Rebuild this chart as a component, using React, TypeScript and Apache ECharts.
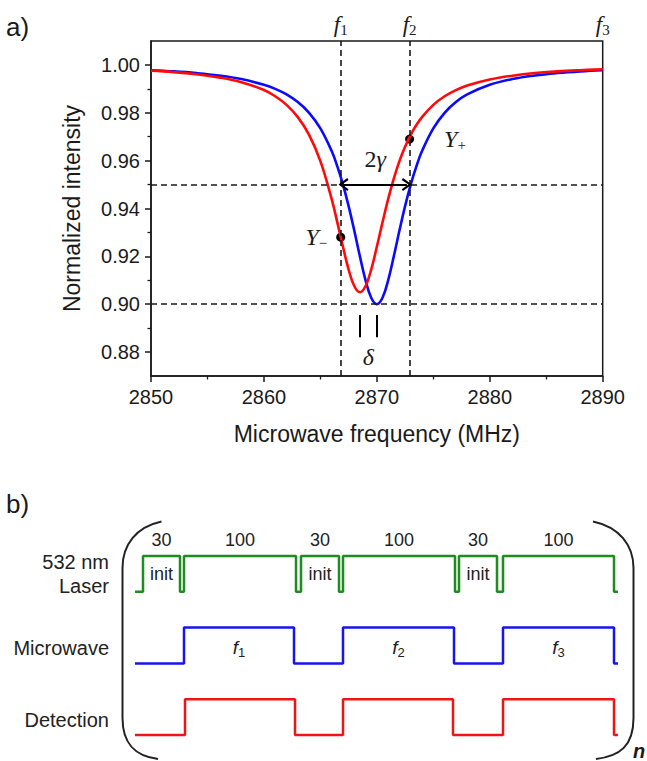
import React, { useEffect, useRef } from "react";
import * as echarts from "echarts";

// ---------- Panel a) data ----------
const freq = [2850, 2852, 2854, 2856, 2858, 2860, 2861, 2862, 2863, 2864, 2865, 2866, 2866.5, 2867, 2867.5, 2868, 2868.5, 2869, 2869.5, 2870, 2870.5, 2871, 2871.5, 2872, 2872.5, 2873, 2873.5, 2874, 2875, 2876, 2877, 2878, 2880, 2882, 2884, 2886, 2888, 2890];
const blueSignal = [0.9978, 0.9973, 0.9966, 0.9956, 0.9941, 0.9917, 0.99, 0.9877, 0.9845, 0.98, 0.9735, 0.964, 0.9576, 0.95, 0.941, 0.9308, 0.92, 0.91, 0.9027, 0.9, 0.9027, 0.91, 0.92, 0.9308, 0.941, 0.95, 0.9576, 0.964, 0.9735, 0.98, 0.9845, 0.9877, 0.9917, 0.9941, 0.9956, 0.9966, 0.9973, 0.9978];
const redSignal = [0.9976, 0.997, 0.9961, 0.9948, 0.9928, 0.9895, 0.9869, 0.9833, 0.9782, 0.9708, 0.9598, 0.9439, 0.9342, 0.924, 0.9145, 0.9076, 0.905, 0.9076, 0.9145, 0.924, 0.9342, 0.9439, 0.9525, 0.9598, 0.9658, 0.9708, 0.9749, 0.9782, 0.9833, 0.9869, 0.9895, 0.9914, 0.9939, 0.9955, 0.9966, 0.9973, 0.9978, 0.9982];
const probeFreq = [2866.8, 2872.9];
const probeValue = [0.928, 0.969];
const probeSign = ["\u2212", "+"];
const markerFreq = [2866.8, 2872.9, 2890];
const markerIndex = ["1", "2", "3"];
const halfLevel = 0.95;
const dipLevel = 0.9;
const dipCenters = [2868.5, 2870];
const yTickValues = [0.88, 0.9, 0.92, 0.94, 0.96, 0.98, 1.0];
const yMinorValues = [0.89, 0.91, 0.93, 0.95, 0.97, 0.99];

// ---------- Panel b) data (diagram time units) ----------
const laserTimes = [0, 8, 45, 49, 161, 166, 204, 208, 320, 324, 362, 368, 479, 483];
const laserOn = [0, 1, 0, 1, 0, 1, 0, 1, 0, 1, 0, 1, 0, 0];
const mwTimes = [0, 49, 159, 208, 319, 368, 479, 483];
const mwOn = [0, 1, 0, 1, 0, 1, 0, 0];
const detTimes = [0, 50, 160, 208, 318, 368, 479, 483];
const detOn = [0, 1, 0, 1, 0, 1, 0, 0];
const pulseDurations = ["30", "100", "30", "100", "30", "100"];
const mwFreqIndex = ["1", "2", "3"];
const channelNames = ["532 nm\nLaser", "Microwave", "Detection"];

const SANS = "'Liberation Sans', Arial, sans-serif";
const SERIF = "'Liberation Serif', 'DejaVu Serif', serif";
const INK = "#1a1a1a";

const chevron = "path://M5,0 L10,7.2 L8.6,8.2 L5,2.8 L1.4,8.2 L0,7.2 Z";

function pulseCenters(times: number[], on: number[]) {
  const out: number[] = [];
  for (let i = 0; i < on.length - 1; i++) {
    if (on[i] === 1) out.push((times[i] + times[i + 1]) / 2);
  }
  return out;
}

export default function App() {
  const ref = useRef<HTMLDivElement>(null);
  useEffect(() => {
    if (!ref.current) return;
    const chart = echarts.init(ref.current, undefined, { renderer: "svg" });

    const laserCenters = pulseCenters(laserTimes, laserOn);
    const mwCenters = pulseCenters(mwTimes, mwOn);
    const channelLevels = [4.5, 2.42, 0.42];

    const subRich = {
      i: { fontFamily: SERIF, fontStyle: "italic", fontSize: 23, color: INK },
      s: { fontFamily: SERIF, fontSize: 15, color: INK, padding: [12, 0, 0, 0] },
    };

    const option: any = {
      animation: false,
      backgroundColor: "#ffffff",
      textStyle: { fontFamily: SANS },
      grid: [
        { left: 151, top: 41, width: 451.7, height: 335, show: true, borderColor: INK, borderWidth: 1.5, backgroundColor: "transparent" },
        { left: 135, top: 538.1, width: 483, height: 214.8, show: false },
      ],
      xAxis: [
        {
          gridIndex: 0, type: "value", min: 2850, max: 2890, interval: 10,
          axisLine: { lineStyle: { color: INK, width: 1.5 } },
          axisTick: { length: 6, lineStyle: { color: INK, width: 1.5 } },
          minorTick: { show: true, splitNumber: 2, length: 3.5, lineStyle: { color: INK, width: 1.3 } },
          axisLabel: { fontSize: 20, color: INK, margin: 11, fontFamily: SANS, formatter: (v: number) => String(v) },
          splitLine: { show: false },
          name: "Microwave frequency (MHz)", nameLocation: "middle", nameGap: 46,
          nameTextStyle: { fontSize: 23, color: INK, fontFamily: SANS },
        },
        { gridIndex: 1, type: "value", min: 0, max: 483, show: false },
      ],
      yAxis: [
        {
          gridIndex: 0, type: "value", min: 0.87, max: 1.01,
          axisLine: { show: true, lineStyle: { color: INK, width: 1.5 } },
          axisTick: { show: true, customValues: yTickValues, length: 6, lineStyle: { color: INK, width: 1.5 } },
          axisLabel: { customValues: yTickValues, formatter: (v: number) => v.toFixed(2), fontSize: 20, color: INK, margin: 11, fontFamily: SANS },
          splitLine: { show: false },
          name: "Normalized intensity", nameLocation: "middle", nameGap: 68, nameRotate: 90,
          nameTextStyle: { fontSize: 23, color: INK, fontFamily: SANS },
        },
        {
          gridIndex: 0, type: "value", min: 0.87, max: 1.01, position: "left",
          axisLine: { show: false },
          axisTick: { show: true, customValues: yMinorValues, length: 3.5, lineStyle: { color: INK, width: 1.3 } },
          axisLabel: { show: false },
          splitLine: { show: false },
        },
        {
          gridIndex: 1, type: "value", min: -0.5, max: 5.5,
          axisLine: { show: false }, axisTick: { show: false }, splitLine: { show: false },
          axisLabel: {
            customValues: channelLevels,
            formatter: (v: number) => {
              const k = channelLevels.findIndex((c) => Math.abs(c - v) < 0.01);
              return k >= 0 ? channelNames[k] : "";
            },
            fontSize: 20, color: "#222", margin: 26, lineHeight: 24, fontFamily: SANS,
          },
        },
      ],
      series: [
        {
          type: "line", name: "blue", xAxisIndex: 0, yAxisIndex: 0,
          data: freq.map((f, i) => [f, blueSignal[i]]),
          smooth: 0.4, showSymbol: false, symbol: "none",
          lineStyle: { color: "#0a0aff", width: 2.6 },
        },
        {
          type: "line", name: "red", xAxisIndex: 0, yAxisIndex: 0,
          data: freq.map((f, i) => [f, redSignal[i]]),
          smooth: 0.4, showSymbol: false, symbol: "none",
          lineStyle: { color: "#ff0a0a", width: 2.6 },
        },
        {
          type: "line", name: "guides", xAxisIndex: 0, yAxisIndex: 0, data: [],
          markLine: {
            silent: true, symbol: "none", label: { show: false },
            lineStyle: { color: INK, type: [6, 4], width: 1.6 },
            data: [
              { xAxis: probeFreq[0] }, { xAxis: probeFreq[1] },
              { yAxis: halfLevel }, { yAxis: dipLevel },
            ],
          },
        },
        {
          type: "line", name: "width", xAxisIndex: 0, yAxisIndex: 0, data: [],
          markLine: {
            silent: true, symbol: [chevron, chevron], symbolSize: [13, 10],
            lineStyle: { color: "#000", type: "solid", width: 2.2 },
            label: {
              show: true, position: "middle", distance: 14,
              formatter: "{n|2}{g|\u03B3}",
              rich: {
                n: { fontFamily: SERIF, fontSize: 24, color: INK },
                g: { fontFamily: SERIF, fontStyle: "italic", fontSize: 24, color: INK },
              },
            },
            data: [[{ coord: [probeFreq[0] + 0.25, halfLevel] }, { coord: [probeFreq[1] - 0.25, halfLevel] }]],
          },
        },
        {
          type: "line", name: "delta", xAxisIndex: 0, yAxisIndex: 0, data: [],
          markLine: {
            silent: true, symbol: "none", label: { show: false },
            lineStyle: { color: "#000", type: "solid", width: 2 },
            data: dipCenters.map((c) => [{ coord: [c, 0.8955] }, { coord: [c, 0.8862] }]),
          },
        },
        {
          type: "scatter", name: "probes", xAxisIndex: 0, yAxisIndex: 0,
          symbolSize: 9, itemStyle: { color: "#000", opacity: 1 },
          data: probeFreq.map((f, i) => ({
            value: [f, probeValue[i]],
            label: {
              show: true,
              position: i === 0 ? "left" : "right",
              distance: i === 0 ? 9 : 30,
              formatter: "{y|Y}{s|" + probeSign[i] + "}",
              rich: {
                y: { fontFamily: SERIF, fontStyle: "italic", fontSize: 24, color: INK },
                s: { fontFamily: SERIF, fontSize: 15, color: INK, padding: [12, 0, 0, 0] },
              },
            },
          })),
        },
        {
          type: "scatter", name: "annotA", xAxisIndex: 0, yAxisIndex: 0,
          symbolSize: 1, itemStyle: { color: "rgba(0,0,0,0)", opacity: 1 }, silent: true,
          data: [
            ...markerFreq.map((f, i) => ({
              value: [f, 1.01],
              label: { show: true, position: "top", distance: 3, formatter: "{i|f}{s|" + markerIndex[i] + "}", rich: subRich },
            })),
            {
              value: [(dipCenters[0] + dipCenters[1]) / 2, 0.8778],
              label: {
                show: true, position: "inside", formatter: "\u03B4",
                fontFamily: SERIF, fontStyle: "italic", fontSize: 24, color: INK,
              },
            },
          ],
        },
        {
          type: "line", name: "Laser", xAxisIndex: 1, yAxisIndex: 2, step: "end",
          data: laserTimes.map((t, i) => [t, 4 + laserOn[i]]),
          symbol: "none", clip: false, lineStyle: { color: "#1f8c1f", width: 2.5 },
        },
        {
          type: "line", name: "Microwave", xAxisIndex: 1, yAxisIndex: 2, step: "end",
          data: mwTimes.map((t, i) => [t, 2 + mwOn[i]]),
          symbol: "none", clip: false, lineStyle: { color: "#1515ee", width: 2.5 },
        },
        {
          type: "line", name: "Detection", xAxisIndex: 1, yAxisIndex: 2, step: "end",
          data: detTimes.map((t, i) => [t, detOn[i]]),
          symbol: "none", clip: false, lineStyle: { color: "#ee1515", width: 2.5 },
        },
        {
          type: "scatter", name: "annotB", xAxisIndex: 1, yAxisIndex: 2,
          symbolSize: 1, itemStyle: { color: "rgba(0,0,0,0)", opacity: 1 }, silent: true,
          label: { show: true, position: "inside", color: "#222", fontSize: 18, fontFamily: SANS },
          data: [
            ...laserCenters.map((c, i) => ({ value: [c, 5.45], label: { formatter: pulseDurations[i] } })),
            ...laserCenters
              .map((c, i) => ({ c, d: pulseDurations[i] }))
              .filter((p) => p.d === "30")
              .map((p) => ({ value: [p.c, 4.5], label: { formatter: "init" } })),
            ...mwCenters.map((c, i) => ({
              value: [c, 2.45],
              label: {
                formatter: "{i|f}{s|" + mwFreqIndex[i] + "}",
                rich: {
                  i: { fontFamily: SANS, fontStyle: "italic", fontSize: 19, color: "#222" },
                  s: { fontFamily: SANS, fontSize: 13, color: "#222", padding: [10, 0, 0, 0] },
                },
              },
            })),
          ],
        },
      ],
      graphic: [
        { type: "text", x: 6, y: 27, style: { text: "a)", fontSize: 26, fontFamily: SANS, fill: INK, textVerticalAlign: "middle" } },
        { type: "text", x: 6, y: 504, style: { text: "b)", fontSize: 26, fontFamily: SANS, fill: INK, textVerticalAlign: "middle" } },
        { type: "bezierCurve", shape: { x1: 161.5, y1: 521.5, cpx1: 136, cpy1: 527, cpx2: 122.5, cpy2: 545, x2: 122.5, y2: 568 }, style: { stroke: "#222", lineWidth: 2, fill: "none" } },
        { type: "line", shape: { x1: 122.5, y1: 568, x2: 122.5, y2: 718 }, style: { stroke: "#222", lineWidth: 2 } },
        { type: "bezierCurve", shape: { x1: 122.5, y1: 718, cpx1: 122.5, cpy1: 744, cpx2: 135, cpy2: 756, x2: 158, y2: 759 }, style: { stroke: "#222", lineWidth: 2, fill: "none" } },
        { type: "bezierCurve", shape: { x1: 593, y1: 521.5, cpx1: 619, cpy1: 527, cpx2: 633.5, cpy2: 545, x2: 633.5, y2: 568 }, style: { stroke: "#222", lineWidth: 2, fill: "none" } },
        { type: "line", shape: { x1: 633.5, y1: 568, x2: 633.5, y2: 718 }, style: { stroke: "#222", lineWidth: 2 } },
        { type: "bezierCurve", shape: { x1: 633.5, y1: 718, cpx1: 633.5, cpy1: 746, cpx2: 620, cpy2: 756, x2: 596, y2: 759 }, style: { stroke: "#222", lineWidth: 2, fill: "none" } },
        { type: "text", x: 633, y: 741, style: { text: "n", fontSize: 20, fontWeight: "bold", fontStyle: "italic", fontFamily: SANS, fill: INK } },
      ],
    };

    chart.setOption(option);
    return () => chart.dispose();
  }, []);

  return (
    <div
      ref={ref}
      style={{ position: "absolute", left: 0, top: 0, width: 647, height: 761, background: "#fff" }}
    />
  );
}
